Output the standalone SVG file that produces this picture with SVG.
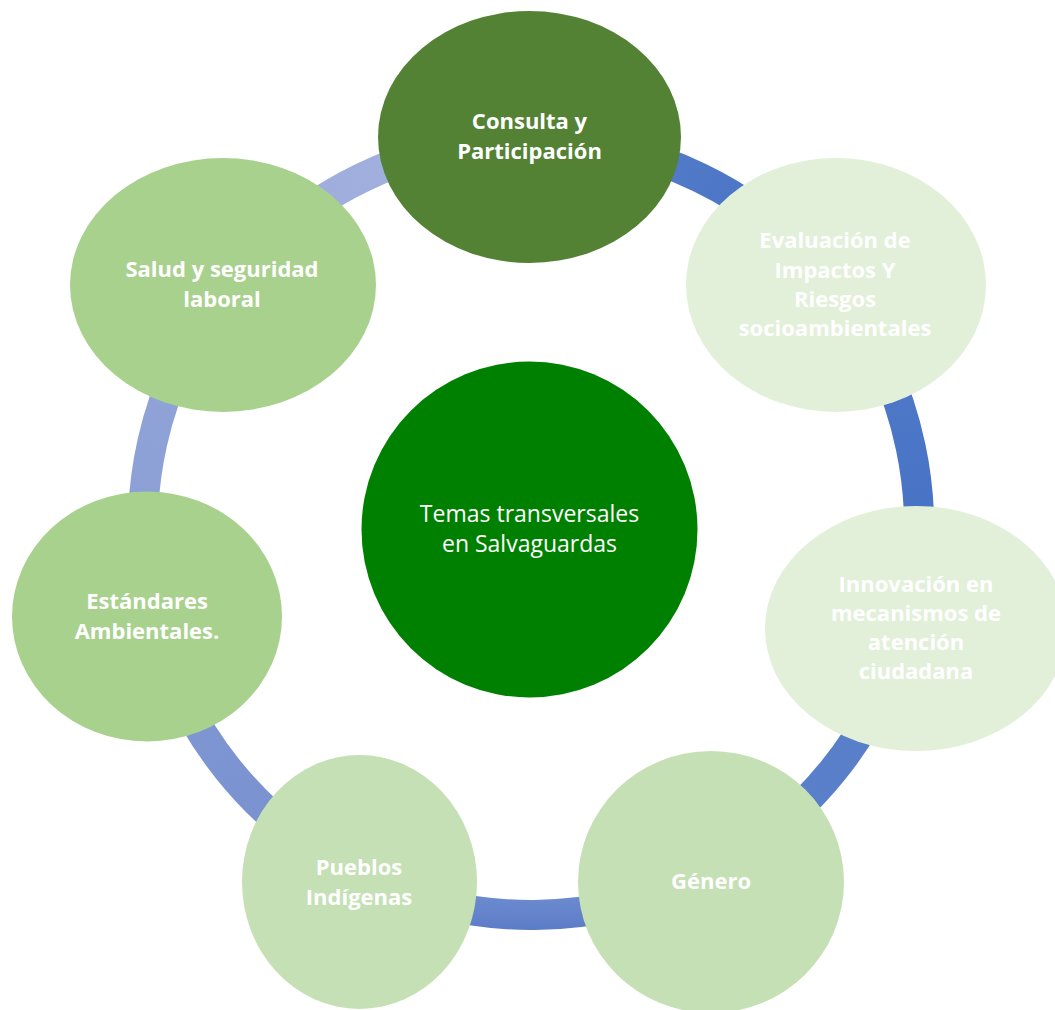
<svg xmlns="http://www.w3.org/2000/svg" width="1055" height="1010" viewBox="0 0 1055 1010">
  <style>
    .ring { fill: none; stroke-width: 30; }
    .lbl { font-family: "Open Sans", Lato, "Liberation Sans", sans-serif; font-weight: bold; font-size: 22px; fill: #FFFFFF; text-anchor: middle; }
    .ctr { font-family: "Open Sans", Lato, "Liberation Sans", sans-serif; font-weight: normal; font-size: 23px; fill: #FFFFFF; text-anchor: middle; }
    .dark { fill: #548235; }
    .pale { fill: #E2F0D9; }
    .mid { fill: #C5E0B4; }
    .lite { fill: #A9D18E; }
  </style>
  <defs>
    <linearGradient id="g1" gradientUnits="userSpaceOnUse" x1="531" y1="139" x2="835" y2="286"><stop offset="0" stop-color="#5A7FCA"/><stop offset="1" stop-color="#4472C4"/></linearGradient>
    <linearGradient id="g2" gradientUnits="userSpaceOnUse" x1="835" y1="286" x2="906" y2="625"><stop offset="0" stop-color="#5279C8"/><stop offset="1" stop-color="#4472C4"/></linearGradient>
    <linearGradient id="g3" gradientUnits="userSpaceOnUse" x1="906" y1="625" x2="706" y2="873"><stop offset="0" stop-color="#5A7FCA"/><stop offset="1" stop-color="#5A80CA"/></linearGradient>
    <linearGradient id="g4" gradientUnits="userSpaceOnUse" x1="0" y1="895" x2="0" y2="935"><stop offset="0" stop-color="#6C8BCF"/><stop offset="1" stop-color="#5A7AC6"/></linearGradient>
    <linearGradient id="g5" gradientUnits="userSpaceOnUse" x1="362" y1="876" x2="153" y2="614"><stop offset="0" stop-color="#7690CF"/><stop offset="1" stop-color="#8298D3"/></linearGradient>
    <linearGradient id="g6" gradientUnits="userSpaceOnUse" x1="153" y1="614" x2="226" y2="287"><stop offset="0" stop-color="#889DD5"/><stop offset="1" stop-color="#93A6D8"/></linearGradient>
    <linearGradient id="g7" gradientUnits="userSpaceOnUse" x1="226" y1="287" x2="531" y2="139"><stop offset="0" stop-color="#9AAADA"/><stop offset="1" stop-color="#A5B3DF"/></linearGradient>
  </defs>

  <g id="connectors">
    <path class="ring" stroke="url(#g1)" d="M531,139 A388,388 0 0 1 835.1,286"/>
    <path class="ring" stroke="url(#g2)" d="M835.1,286 A388,388 0 0 1 906.3,625.5"/>
    <path class="ring" stroke="url(#g3)" d="M906.3,625.5 A388,388 0 0 1 706.5,873"/>
    <path class="ring" stroke="url(#g4)" d="M706.5,873 A388,388 0 0 1 362.1,876.3"/>
    <path class="ring" stroke="url(#g5)" d="M362.1,876.3 A388,388 0 0 1 152.9,614.3"/>
    <path class="ring" stroke="url(#g6)" d="M152.9,614.3 A388,388 0 0 1 226.1,287.1"/>
    <path class="ring" stroke="url(#g7)" d="M226.1,287.1 A388,388 0 0 1 531,139"/>
  </g>

  <g id="node-center">
    <circle cx="529.5" cy="529.5" r="168" fill="#008000"/>
    <text class="ctr" x="529.5" y="522">Temas transversales</text>
    <text class="ctr" x="529.5" y="552">en Salvaguardas</text>
  </g>

  <g id="node-consulta">
    <ellipse class="dark" cx="529.5" cy="137" rx="151.5" ry="126"/>
    <text class="lbl" x="529.5" y="129">Consulta y</text>
    <text class="lbl" x="529.5" y="159">Participación</text>
  </g>

  <g id="node-evaluacion">
    <ellipse class="pale" cx="836" cy="285" rx="150" ry="127"/>
    <text class="lbl" x="835" y="248">Evaluación de</text>
    <text class="lbl" x="835" y="277.5">Impactos Y</text>
    <text class="lbl" x="835" y="307">Riesgos</text>
    <text class="lbl" x="835" y="336">socioambientales</text>
  </g>

  <g id="node-innovacion">
    <ellipse class="pale" cx="916" cy="628.5" rx="151" ry="122.5"/>
    <text class="lbl" x="916" y="592">Innovación en</text>
    <text class="lbl" x="916" y="621">mecanismos de</text>
    <text class="lbl" x="916" y="650">atención</text>
    <text class="lbl" x="916" y="679">ciudadana</text>
  </g>

  <g id="node-genero">
    <ellipse class="mid" cx="711" cy="882" rx="133" ry="131"/>
    <text class="lbl" x="711" y="889">Género</text>
  </g>

  <g id="node-pueblos">
    <ellipse class="mid" cx="359.5" cy="882" rx="117.5" ry="127"/>
    <text class="lbl" x="359" y="875">Pueblos</text>
    <text class="lbl" x="359" y="905">Indígenas</text>
  </g>

  <g id="node-estandares">
    <ellipse class="lite" cx="147" cy="616.5" rx="135" ry="125"/>
    <text class="lbl" x="147" y="609">Estándares</text>
    <text class="lbl" x="147" y="639">Ambientales.</text>
  </g>

  <g id="node-salud">
    <ellipse class="lite" cx="223" cy="285" rx="153" ry="127"/>
    <text class="lbl" x="222" y="277">Salud y seguridad</text>
    <text class="lbl" x="222" y="307">laboral</text>
  </g>
</svg>
